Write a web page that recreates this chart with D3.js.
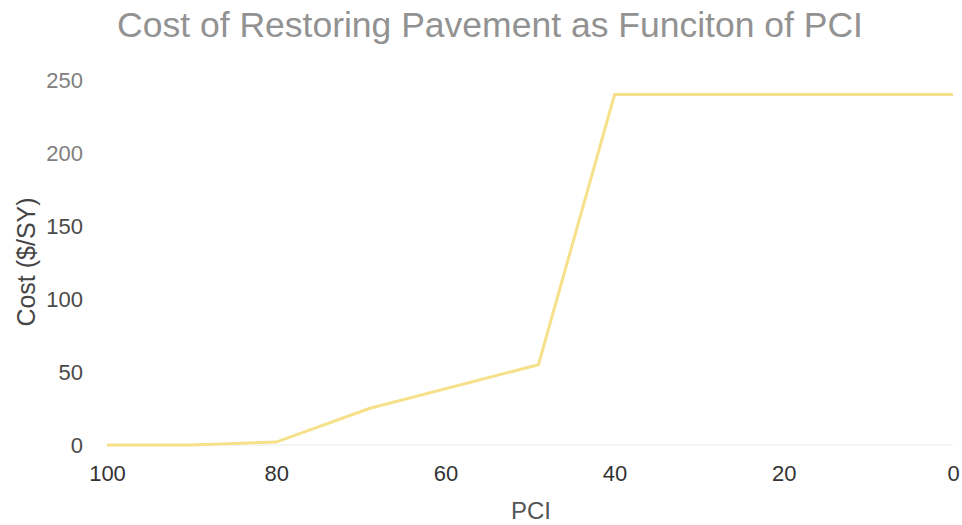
<!DOCTYPE html>
<html>
<head>
<meta charset="utf-8">
<script src="https://cdn.jsdelivr.net/npm/d3@7"></script>
<style>
  html, body { margin: 0; padding: 0; background: #fff; }
  svg { display: block; font-family: "Liberation Sans", Arial, sans-serif; }
</style>
</head>
<body>
<svg id="chart" width="962" height="525"></svg>
<script>
const pci  = [100, 90, 80, 69, 49, 40, 20, 0];
const cost = [0, 0, 2, 25, 55, 240, 240, 240];
const xTicks = [100, 80, 60, 40, 20, 0];
const yTicks = [0, 50, 100, 150, 200, 250];

const svg = d3.select("#chart");
const x = d3.scaleLinear().domain([100, 0]).range([107, 953]);
const y = d3.scaleLinear().domain([0, 250]).range([445, 80]);

svg.append("text")
  .attr("x", 490).attr("y", 37)
  .attr("text-anchor", "middle")
  .attr("font-size", 35.5)
  .attr("fill", "#929292")
  .text("Cost of Restoring Pavement as Funciton of PCI");

// faint baseline grid
svg.append("line")
  .attr("x1", x(100)).attr("x2", x(0))
  .attr("y1", y(0)).attr("y2", y(0))
  .attr("stroke", "#f2f2f2").attr("stroke-width", 1.5);

const yAxis = d3.axisLeft(y).tickValues(yTicks).tickSize(0).tickPadding(0);
const gy = svg.append("g").attr("transform", "translate(83,0)").call(yAxis);
gy.select(".domain").remove();
gy.selectAll("text")
  .attr("font-size", 22)
  .attr("font-family", "'Liberation Sans', Arial, sans-serif")
  .attr("fill", d => d >= 200 ? "#808080" : "#4a4a4a")
  .attr("dy", "0.35em");

const xAxis = d3.axisBottom(x).tickValues(xTicks).tickSize(0).tickPadding(0);
const gx = svg.append("g").attr("transform", "translate(0,463)").call(xAxis);
gx.select(".domain").remove();
gx.selectAll("text")
  .attr("font-size", 22)
  .attr("font-family", "'Liberation Sans', Arial, sans-serif")
  .attr("fill", "#333")
  .attr("dy", "0.8em");

svg.append("text")
  .attr("x", 531).attr("y", 519)
  .attr("text-anchor", "middle")
  .attr("font-size", 24)
  .attr("fill", "#555")
  .text("PCI");

svg.append("text")
  .attr("transform", "translate(35,262) rotate(-90)")
  .attr("text-anchor", "middle")
  .attr("font-size", 25)
  .attr("fill", "#444")
  .text("Cost ($/SY)");

const data = pci.map((p, i) => ({p, c: cost[i]}));
svg.append("path")
  .datum(data)
  .attr("fill", "none")
  .attr("stroke", "#f6e08a")
  .attr("stroke-width", 3)
  .attr("stroke-linejoin", "miter")
  .attr("d", d3.line().x(d => x(d.p)).y(d => y(d.c)));
</script>
</body>
</html>
